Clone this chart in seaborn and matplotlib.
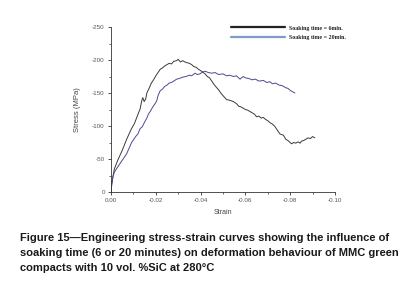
import matplotlib
matplotlib.use("Agg")
import matplotlib.pyplot as plt
import seaborn as sns
import pandas as pd
from matplotlib.lines import Line2D
from matplotlib.ticker import MultipleLocator

# ---- data ----
strain_6 = [0, -0.0003, -0.0008, -0.0015, -0.003, -0.005, -0.007, -0.009, -0.0105,
            -0.0115, -0.013, -0.0137, -0.0142, -0.0148, -0.0155, -0.016, -0.017, -0.018,
            -0.019, -0.020, -0.021, -0.022, -0.023, -0.024, -0.025, -0.026, -0.027,
            -0.028, -0.0293, -0.030, -0.031, -0.032, -0.033, -0.0338, -0.035, -0.036,
            -0.037, -0.038, -0.039, -0.040, -0.0412, -0.042, -0.043, -0.044, -0.045,
            -0.046, -0.0472, -0.048, -0.049, -0.050, -0.0516, -0.053, -0.0546, -0.056,
            -0.057, -0.058, -0.060, -0.061, -0.063, -0.064, -0.065, -0.066, -0.067,
            -0.068, -0.069, -0.070, -0.071, -0.072, -0.073, -0.074, -0.0754, -0.077,
            -0.078, -0.079, -0.0806, -0.0815, -0.0825, -0.0835, -0.0844, -0.085,
            -0.086, -0.087, -0.088, -0.089, -0.090, -0.091]
stress_6 = [0, -10, -22, -35, -48, -63, -80, -95, -104,
            -113, -126, -138, -143, -137, -141, -150, -157, -165,
            -170, -176, -181, -186, -188, -191, -193, -195, -194,
            -198, -199, -201, -197, -199, -197, -196, -195, -193,
            -190, -189, -186, -184, -181, -179, -175, -173, -168,
            -163, -158, -155, -150, -146, -140, -139, -137, -134,
            -130, -129, -125, -124, -120, -118, -114, -115, -112,
            -113, -110, -108, -105, -103, -100, -95, -88, -86,
            -80, -78, -73, -75, -74, -76, -74, -77,
            -78, -80, -82, -81, -84, -82]

strain_20 = [0, -0.0003, -0.0008, -0.0015, -0.003, -0.005, -0.007, -0.0092, -0.010,
             -0.011, -0.012, -0.013, -0.014, -0.015, -0.016, -0.0167, -0.0175, -0.0185,
             -0.0195, -0.0204, -0.021, -0.0219, -0.023, -0.024, -0.025, -0.026, -0.027,
             -0.028, -0.0293, -0.0305, -0.032, -0.0335, -0.035, -0.036, -0.0375, -0.0385,
             -0.0397, -0.041, -0.042, -0.0435, -0.045, -0.0465, -0.048, -0.050, -0.0516,
             -0.053, -0.0546, -0.056, -0.0576, -0.059, -0.060, -0.0615, -0.063, -0.0645,
             -0.066, -0.068, -0.0695, -0.071, -0.072, -0.0735, -0.075, -0.0765, -0.078,
             -0.079, -0.080, -0.081, -0.0821]
stress_20 = [0, -12, -22, -30, -38, -48, -58, -75, -79,
             -84, -88, -96, -99, -106, -112, -118, -122, -128,
             -133, -138, -146, -153, -156, -160, -162, -165, -166,
             -168, -171, -172, -174, -175, -177, -176, -180, -178,
             -179, -182, -183, -181, -180, -181, -178, -179, -176,
             -177, -175, -176, -171, -175, -173, -172, -170, -171,
             -168, -169, -166, -167, -164, -165, -162, -161, -158,
             -157, -154, -152, -150]

labels = ["Soaking time = 6min.", "Soaking time = 20min."]
caption = ("Figure 15\u2014Engineering stress-strain curves showing the influence of\n"
           "soaking time (6 or 20 minutes) on deformation behaviour of MMC green\n"
           "compacts with 10 vol. %SiC at 280\u00b0C")

df6 = pd.DataFrame({"Strain": strain_6, "Stress": stress_6})
df20 = pd.DataFrame({"Strain": strain_20, "Stress": stress_20})

sns.set_theme(style="ticks")
plt.rcParams["font.family"] = ["Liberation Sans", "DejaVu Sans"]

fig = plt.figure(figsize=(4.04, 2.90), dpi=100)
ax = fig.add_axes([111/404, 1 - 192/290, (335 - 111)/404, (192 - 27)/290])

sns.lineplot(data=df6, x="Strain", y="Stress", ax=ax, color="#3a3a3a",
             linewidth=0.7, sort=False, estimator=None)
sns.lineplot(data=df20, x="Strain", y="Stress", ax=ax, color="#4a4a90",
             linewidth=0.7, sort=False, estimator=None)

ax.set_xlim(0, -0.10)
ax.set_ylim(0, -250)
ax.xaxis.set_major_locator(MultipleLocator(0.02))
ax.xaxis.set_minor_locator(MultipleLocator(0.01))
ax.yaxis.set_major_locator(MultipleLocator(50))
ax.yaxis.set_minor_locator(MultipleLocator(25))
ax.set_xticks([0, -0.02, -0.04, -0.06, -0.08, -0.10])
ax.set_xticklabels(["0.00", "-0.02", "-0.04", "-0.06", "-0.08", "-0.10"])
ax.set_yticks([0, -50, -100, -150, -200, -250])
ax.set_yticklabels(["0", "-50", "-100", "-150", "-200", "-250"])
ax.tick_params(axis="both", which="major", length=2.5, width=0.6, labelsize=4.5,
               pad=2, colors="#333333", labelcolor="#555555")
ax.tick_params(axis="both", which="minor", length=1.5, width=0.5, colors="#333333")
for s in ["top", "right"]:
    ax.spines[s].set_visible(False)
for s in ["left", "bottom"]:
    ax.spines[s].set_linewidth(0.6)
    ax.spines[s].set_color("#333333")
ax.set_xlabel("Strain", fontsize=5, color="#444444", labelpad=4)
ax.set_ylabel("Stress (MPa)", fontsize=5.5, color="#444444", labelpad=8)

handles = [Line2D([], [], color="#222222", linewidth=1.6),
           Line2D([], [], color="#7f9cc8", linewidth=1.6)]
fig.legend(handles, labels, loc="upper left", bbox_to_anchor=(226/404, 1 - 20/290),
           frameon=False, handlelength=9, handletextpad=0.6, labelspacing=0.75,
           prop={"family": "Liberation Serif", "weight": "bold", "size": 4.3})

fig.text(20/404, 1 - 233/290, caption, ha="left", va="top", fontsize=8.05,
         fontweight="bold", color="#1a1a1a", linespacing=1.62,
         family=["Liberation Sans", "DejaVu Sans"])

fig.savefig("out.png", dpi=100)
